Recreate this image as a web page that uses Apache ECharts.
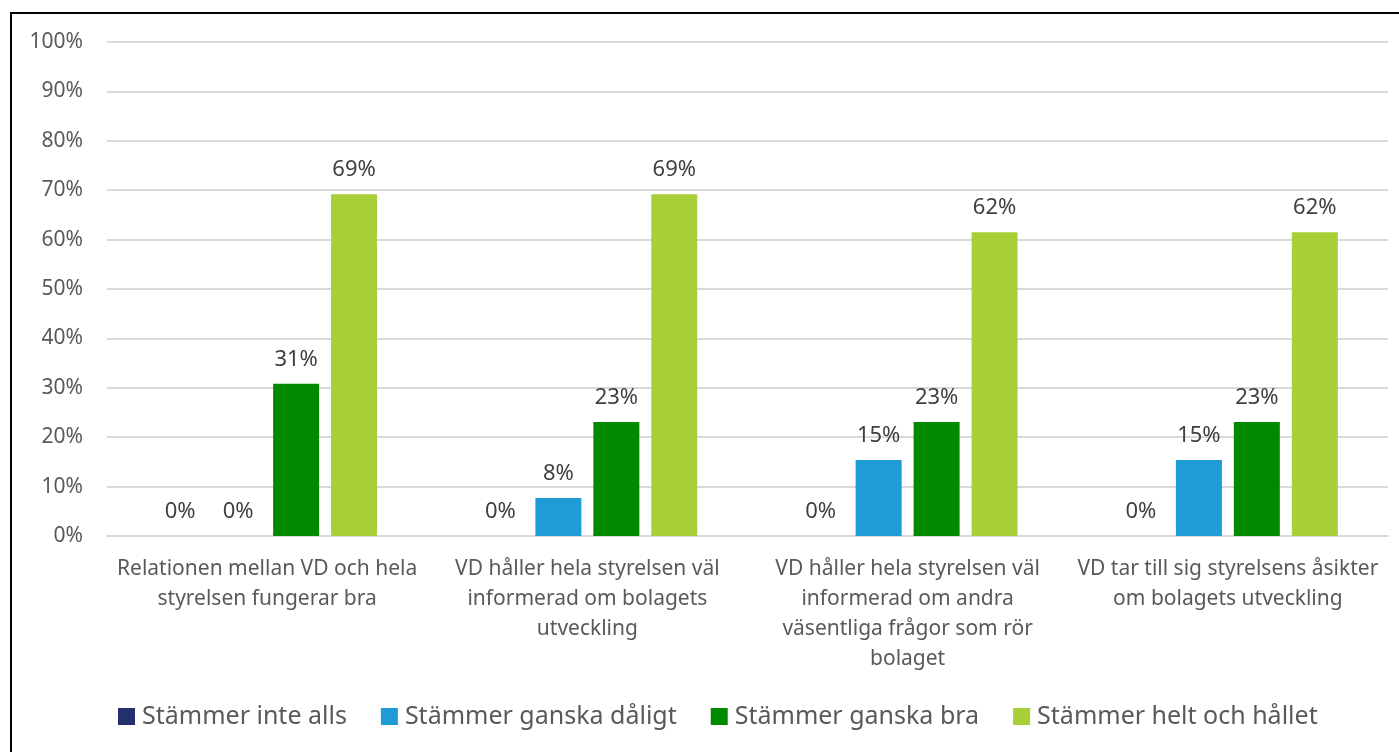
<!DOCTYPE html>
<html>
<head>
<meta charset="utf-8">
<script src="https://cdn.jsdelivr.net/npm/echarts@6/dist/echarts.min.js"></script>
<style>
  html, body { margin: 0; padding: 0; background: #fff; }
  #wrap { position: relative; width: 1399px; height: 752px; overflow: hidden; }
  #frame { position: absolute; left: 10px; top: 12px; width: 1400px; height: 760px;
           border-left: 2px solid #000; border-top: 2px solid #000; box-sizing: border-box; }
  #chart { position: absolute; left: 0; top: 0; width: 1399px; height: 752px; }
</style>
</head>
<body>
<div id="wrap">
  <div id="frame"></div>
  <div id="chart"></div>
</div>
<script>
// frågor (kategorier)
var categories = [
    'Relationen mellan VD och hela\nstyrelsen fungerar bra',
    'VD håller hela styrelsen väl\ninformerad om bolagets\nutveckling',
    'VD håller hela styrelsen väl\ninformerad om andra\nväsentliga frågor som rör\nbolaget',
    'VD tar till sig styrelsens åsikter\nom bolagets utveckling'
];
var seriesNames = ['Stämmer inte alls', 'Stämmer ganska dåligt', 'Stämmer ganska bra', 'Stämmer helt och hållet'];
var seriesColors = ['#262F6E', '#1F9BD7', '#008A00', '#A8CE38'];

// andelar i procent
var inteAlls = [0, 0, 0, 0];
var ganskaDaligt = [0, 7.7, 15.4, 15.4];
var ganskaBra = [30.8, 23.1, 23.1, 23.1];
var heltOchHallet = [69.2, 69.2, 61.5, 61.5];
var yTicks = [0, 10, 20, 30, 40, 50, 60, 70, 80, 90, 100];

var values = [inteAlls, ganskaDaligt, ganskaBra, heltOchHallet];
var font = '"Noto Sans", sans-serif';

var myChart = echarts.init(document.getElementById('chart'));
var series = [];
for (var i = 0; i < seriesNames.length; i++) {
    series.push({
        name: seriesNames[i],
        type: 'bar',
        data: values[i],
        barWidth: 46,
        barGap: '26%',
        itemStyle: { color: seriesColors[i] },
        label: {
            show: true,
            position: 'top',
            distance: 13,
            color: '#404040',
            fontSize: 22,
            fontFamily: font,
            formatter: function (p) { return Math.round(p.value) + '%'; }
        }
    });
}

var option = {
    animation: false,
    textStyle: { fontFamily: font },
    grid: { left: 107, right: 11, top: 42, bottom: 216 },
    legend: {
        left: 113,
        top: 699,
        itemWidth: 17,
        itemHeight: 17,
        itemGap: 34,
        icon: 'rect',
        textStyle: { fontSize: 25, color: '#595959', fontFamily: font, padding: [0, 0, 0, 2] },
        data: seriesNames
    },
    xAxis: {
        type: 'category',
        data: categories,
        axisTick: { show: false },
        axisLine: { lineStyle: { color: '#D9D9D9', width: 2 } },
        axisLabel: {
            color: '#595959',
            fontSize: 21,
            lineHeight: 30,
            margin: 18,
            interval: 0,
            fontFamily: font
        }
    },
    yAxis: {
        type: 'value',
        min: yTicks[0],
        max: yTicks[yTicks.length - 1],
        interval: 10,
        axisLine: { show: false },
        axisTick: { show: false },
        splitLine: { lineStyle: { color: '#D9D9D9', width: 2 } },
        axisLabel: {
            color: '#595959',
            fontSize: 21,
            margin: 24,
            fontFamily: font,
            formatter: '{value}%'
        }
    },
    series: series
};
myChart.setOption(option);
</script>
</body>
</html>
